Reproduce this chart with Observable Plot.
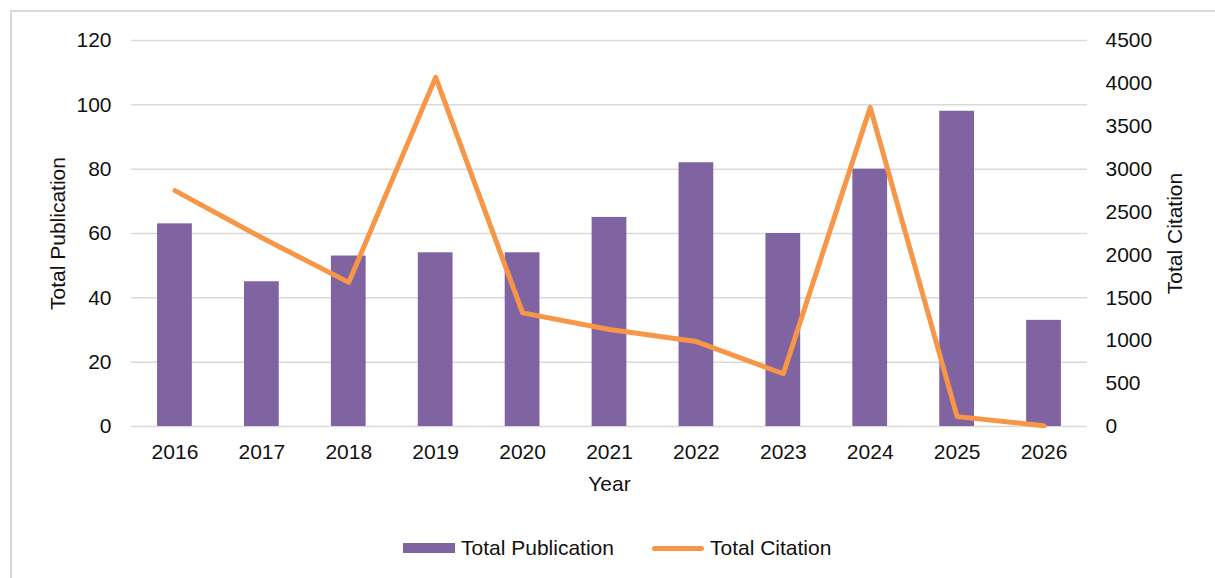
<!DOCTYPE html>
<html>
<head>
<meta charset="utf-8">
<script src="https://cdn.jsdelivr.net/npm/d3@7"></script>
<script src="https://cdn.jsdelivr.net/npm/@observablehq/plot@0.6"></script>
<style>
  html, body { margin: 0; padding: 0; background: #fff; }
  body { width: 1215px; height: 578px; overflow: hidden; position: relative; font-family: "Liberation Sans", Arial, sans-serif; }
  #frame { position: absolute; left: 10px; top: 10px; width: 1400px; height: 800px; border: 2px solid #d9d9d9; box-sizing: border-box; }
  #chart { position: absolute; left: 0; top: 0; }
  .legend { position: absolute; top: 535px; font-size: 21px; color: #111; line-height: 26px; }
  .sw-bar { position: absolute; width: 52px; height: 10px; background: #8064a2; }
  .sw-line { position: absolute; width: 52px; height: 5px; background: #f79646; border-radius: 3px; }
</style>
</head>
<body>
<div id="frame"></div>
<div id="chart"></div>
<div class="sw-bar" style="left:403px; top:543px;"></div>
<div class="legend" style="left:461px;">Total Publication</div>
<div class="sw-line" style="left:652px; top:546px;"></div>
<div class="legend" style="left:710px;">Total Citation</div>
<script>
const years = ["2016","2017","2018","2019","2020","2021","2022","2023","2024","2025","2026"];
const publications = [63, 45, 53, 54, 54, 65, 82, 60, 80, 98, 33];
const citations = [2750, 2200, 1680, 4070, 1325, 1130, 990, 615, 3720, 115, 8];
const pubTicks = [0, 20, 40, 60, 80, 100, 120];
const citeTicks = [0, 500, 1000, 1500, 2000, 2500, 3000, 3500, 4000, 4500];

const pubMax = 120, citeMax = 4500;
const k = pubMax / citeMax;
const data = years.map((y, i) => ({year: y, pub: publications[i], cite: citations[i]}));

const chart = Plot.plot({
  width: 1215,
  height: 500,
  marginLeft: 131,
  marginRight: 128,
  marginTop: 40,
  marginBottom: 74,
  style: {fontSize: "21px", fontFamily: "'Liberation Sans', Arial, sans-serif", color: "#111", background: "transparent"},
  x: {type: "band", domain: years, paddingInner: 0.6, paddingOuter: 0.3, round: false, axis: null},
  y: {domain: [0, pubMax], axis: null},
  marks: [
    Plot.gridY(pubTicks, {stroke: "#d9d9d9", strokeOpacity: 1, strokeWidth: 1.5}),
    Plot.barY(data, {x: "year", y: "pub", fill: "#8064a2"}),
    Plot.line(data, {x: "year", y: d => d.cite * k, stroke: "#f79646", strokeWidth: 5, strokeLinejoin: "round", strokeLinecap: "round"}),
    Plot.axisY(pubTicks, {anchor: "left", tickSize: 0, tickPadding: 20, label: null, fontSize: 21}),
    Plot.axisY(citeTicks.map(v => v * k), {anchor: "right", tickSize: 0, tickPadding: 18, label: null, fontSize: 21, tickFormat: d => String(Math.round(d / k))}),
    Plot.axisX(years, {anchor: "bottom", tickSize: 0, tickPadding: 18, label: null, fontSize: 21}),
    Plot.text(["Year"], {text: d => d, frameAnchor: "bottom", lineAnchor: "top", dy: 50, fontSize: 21, fill: "#111"}),
    Plot.text(["Total Publication"], {text: d => d, frameAnchor: "left", textAnchor: "middle", rotate: -90, dx: -73, fontSize: 21, fill: "#111"}),
    Plot.text(["Total Citation"], {text: d => d, frameAnchor: "right", textAnchor: "middle", rotate: -90, dx: 88, fontSize: 21, fill: "#111"})
  ]
});
document.getElementById("chart").appendChild(chart);
</script>
</body>
</html>
